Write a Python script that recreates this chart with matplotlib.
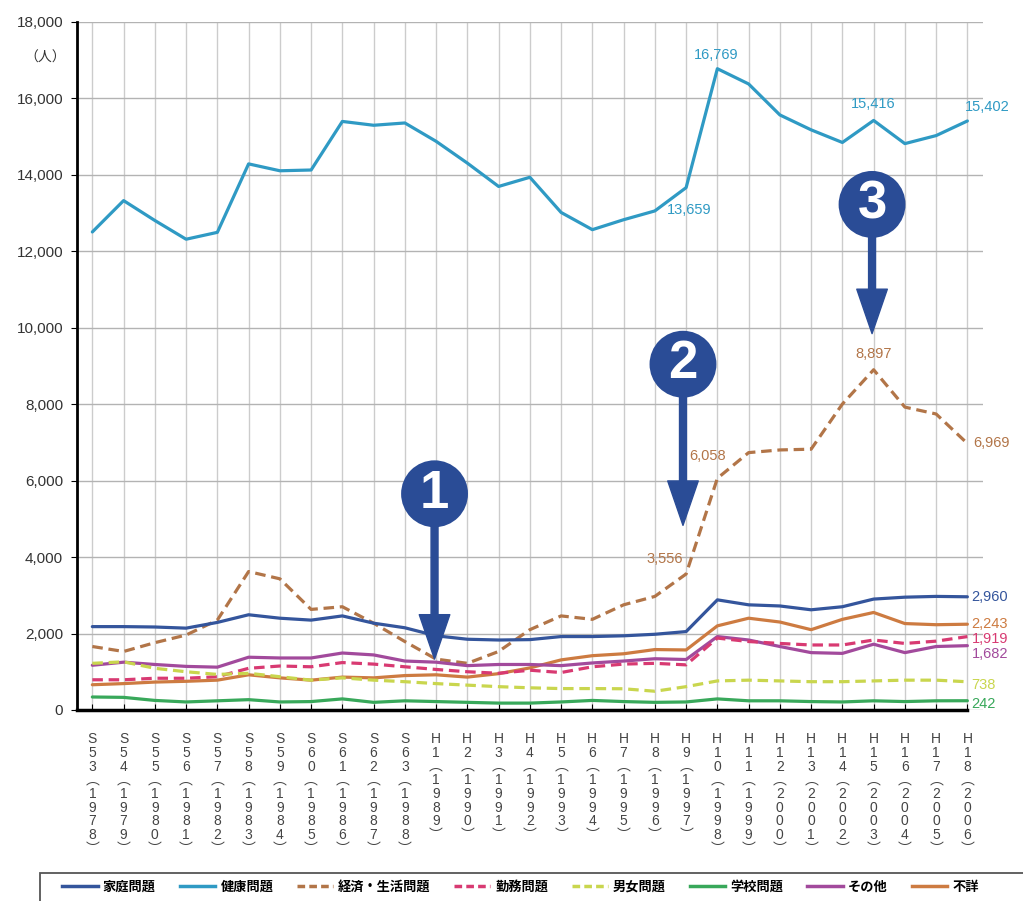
import numpy as np
import matplotlib
matplotlib.use('Agg')
import matplotlib.pyplot as plt
from matplotlib.lines import Line2D
from matplotlib.patches import Rectangle

plt.rcParams['font.family'] = ['Liberation Sans', 'Noto Sans CJK JP', 'DejaVu Sans']

# --- DATA ---
eras = ['S53', 'S54', 'S55', 'S56', 'S57', 'S58', 'S59', 'S60', 'S61', 'S62', 'S63',
        'H1', 'H2', 'H3', 'H4', 'H5', 'H6', 'H7', 'H8', 'H9', 'H10', 'H11', 'H12',
        'H13', 'H14', 'H15', 'H16', 'H17', 'H18']
years = list(range(1978, 2007))

family = [2180, 2180, 2170, 2140, 2290, 2490, 2400, 2350, 2460, 2270, 2150,
          1940, 1850, 1830, 1840, 1920, 1920, 1940, 1980, 2050, 2880, 2750, 2720,
          2620, 2700, 2900, 2950, 2970, 2960]
health = [12500, 13320, 12800, 12310, 12490, 14280, 14100, 14120, 15390, 15290, 15350,
          14870, 14300, 13690, 13930, 13010, 12560, 12820, 13050, 13659, 16769, 16370, 15560,
          15170, 14840, 15416, 14810, 15020, 15402]
economy = [1660, 1530, 1760, 1960, 2350, 3620, 3430, 2630, 2700, 2270, 1790,
           1330, 1220, 1530, 2100, 2460, 2370, 2750, 2970, 3556, 6058, 6730, 6800,
           6820, 8000, 8897, 7920, 7740, 6969]
work = [790, 790, 830, 830, 870, 1090, 1150, 1130, 1240, 1200, 1130,
        1060, 1000, 960, 1040, 980, 1130, 1200, 1220, 1180, 1880, 1790, 1740,
        1700, 1700, 1830, 1740, 1800, 1919]
gender = [1220, 1260, 1090, 1000, 930, 960, 870, 780, 840, 780, 740,
          690, 650, 610, 580, 560, 560, 555, 490, 610, 760, 780, 760,
          740, 740, 760, 780, 780, 738]
school = [340, 330, 250, 210, 240, 270, 210, 220, 290, 200, 240,
          220, 200, 180, 180, 210, 250, 220, 200, 210, 290, 240, 240,
          220, 210, 240, 220, 240, 242]
other = [1170, 1250, 1190, 1140, 1120, 1380, 1360, 1360, 1490, 1440, 1280,
         1250, 1160, 1190, 1190, 1160, 1230, 1280, 1340, 1320, 1920, 1830, 1660,
         1500, 1480, 1720, 1500, 1660, 1682]
unknown = [660, 690, 730, 750, 780, 920, 840, 780, 860, 840, 900,
           920, 860, 950, 1100, 1310, 1420, 1470, 1580, 1570, 2200, 2400, 2300,
           2100, 2370, 2550, 2260, 2230, 2243]

names = ['家庭問題', '健康問題', '経済・生活問題', '勤務問題', '男女問題', '学校問題', 'その他', '不詳']
series = [family, health, economy, work, gender, school, other, unknown]
colors = ['#34559c', '#2f9ac4', '#b27548', '#d83a72', '#c9d64e', '#38a85a', '#a24a9c', '#cd7b41']
dashed = [False, False, True, True, True, False, False, False]

BLUE = '#2a4c96'

fig = plt.figure(figsize=(10.23, 9.01), dpi=100)
ax = fig.add_axes([0.0753, 0.212, 0.8856, 0.764])
x = np.arange(len(eras))

draw_order = [1, 2, 0, 7, 6, 3, 4, 5]
for k in draw_order:
    ls = (0, (3.3, 1.8)) if dashed[k] else '-'
    ax.plot(x, series[k], color=colors[k], lw=2.3, linestyle=ls, zorder=3,
            solid_capstyle='round')

ax.set_xlim(-0.49, 28.5)
ax.set_ylim(0, 18000)
ax.set_yticks(np.arange(0, 18001, 2000))
ax.set_yticklabels([f'{v:,}' for v in range(0, 18001, 2000)], fontsize=11, color='#333333')

xlabels = ['\n'.join(list(e) + ['︵'] + list(str(y)) + ['︶']) for e, y in zip(eras, years)]
ax.set_xticks(x)
ax.set_xticklabels(xlabels, fontsize=10, color='#444444', linespacing=0.97, va='top')

ax.grid(axis='x', color='#cccccc', lw=1.0, zorder=0)
ax.grid(axis='y', color='#b3b3b3', lw=1.0, zorder=0)
ax.set_axisbelow(True)
for s in ['top', 'right']:
    ax.spines[s].set_visible(False)
ax.spines['left'].set_linewidth(2)
ax.spines['bottom'].set_linewidth(2.5)
ax.spines['bottom'].set_bounds(-0.49, 28)
ax.tick_params(axis='x', direction='in', length=4, pad=16)
ax.tick_params(axis='y', direction='out', length=4, pad=6)

fig.text(45 / 1023, 1 - 58 / 901, '（人）', fontsize=10, color='#333333',
         ha='center', va='center', family=['Noto Sans CJK JP'])

# value labels: (series index, point index, ha, dx, dy in points)
callouts = [(1, 19, 'center', 2, -16), (1, 20, 'center', -1, 10), (1, 25, 'center', 0, 12),
            (1, 28, 'left', -2, 10),
            (2, 19, 'right', -2, 11), (2, 20, 'center', -7, 16), (2, 25, 'center', 0, 11),
            (2, 28, 'left', 4, 0),
            (0, 28, 'left', 3, 0), (7, 28, 'left', 3, 0), (3, 28, 'left', 3, -2),
            (6, 28, 'left', 3, -6), (4, 28, 'left', 3, -2), (5, 28, 'left', 3, -2)]
for si, pi, ha, dx, dy in callouts:
    v = series[si][pi]
    ax.annotate(f'{v:,}', xy=(pi, v), xytext=(dx, dy), textcoords='offset points',
                ha=ha, va='center', fontsize=10.5, color=colors[si], zorder=5)

# numbered arrows: (number, point index, x shift, gap above line, circle height) in points
markers = [('1', 11, -0.05, 0, 123), ('2', 19, -0.1, 35, 120), ('3', 25, -0.05, 26, 97)]
for num, pi, xs, gap, h in markers:
    tip = (pi + xs, economy[pi])
    ax.annotate('', xy=tip, xytext=(0, h + gap), textcoords='offset points',
                arrowprops=dict(arrowstyle='simple,head_length=3.2,head_width=2.2,tail_width=0.5',
                                color=BLUE, shrinkA=0, shrinkB=gap, mutation_scale=10),
                zorder=6)
    ax.annotate(num, xy=tip, xytext=(0, h + gap), textcoords='offset points',
                ha='center', va='center_baseline', fontsize=38, fontweight='bold', color='white',
                bbox=dict(boxstyle='circle,pad=0.16', fc=BLUE, ec='none'), zorder=7)

# legend
handles = [Line2D([0], [0], color=c, lw=2.5, linestyle=(0, (2.2, 1.2)) if d else '-')
           for c, d in zip(colors, dashed)]
fig.legend(handles, names, loc='center left', bbox_to_anchor=(50 / 1023, 1 - 887 / 901),
           ncol=8, frameon=False, handlelength=2.7, handletextpad=0.4, columnspacing=1.8,
           prop={'family': ['Noto Sans CJK JP'], 'size': 9.5, 'weight': 'bold'})
fig.patches.append(Rectangle((40 / 1023, -0.05), 1.0, (901 - 873) / 901 + 0.05,
                             transform=fig.transFigure, fill=False, ec='#555555', lw=1.3))

plt.savefig('out.png', dpi=100)
